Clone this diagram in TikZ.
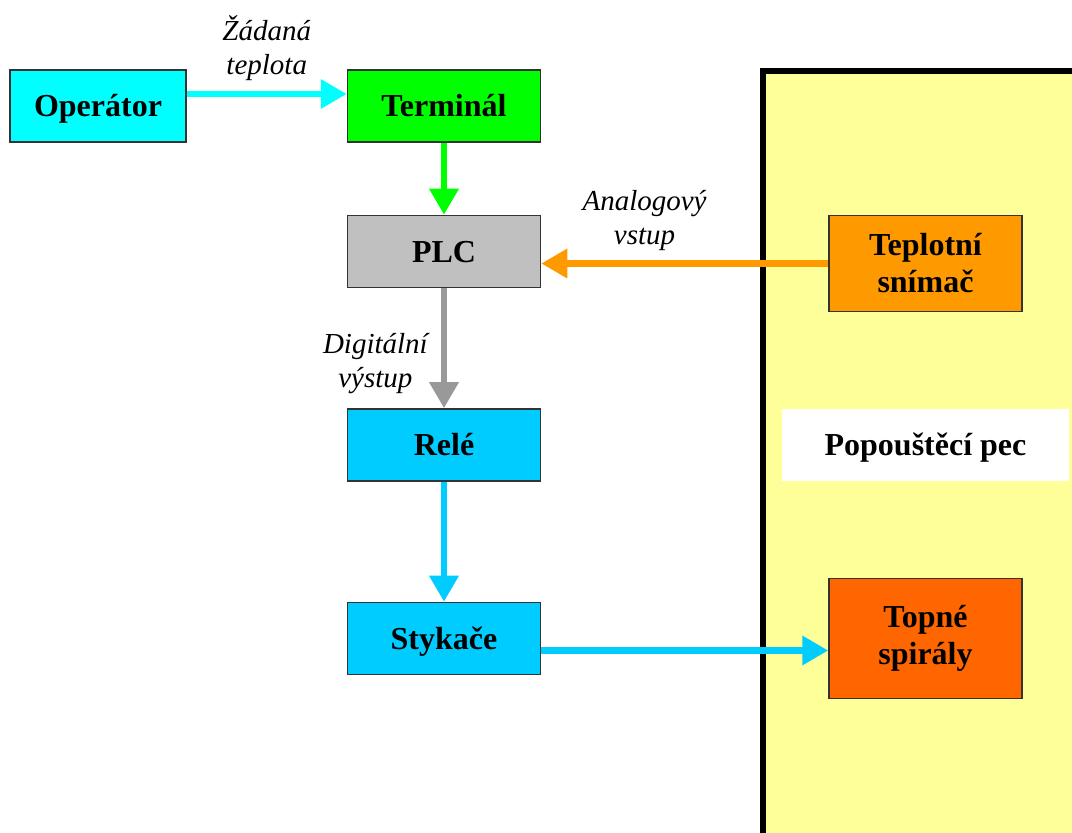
\documentclass[tikz,border=0pt]{standalone}
\usepackage{fontspec}
\setmainfont{Liberation Serif}
\usetikzlibrary{arrows.meta,positioning}

\definecolor{opcyan}{HTML}{00FFFF}
\definecolor{termgreen}{HTML}{00FF00}
\definecolor{plcgray}{HTML}{C0C0C0}
\definecolor{arrowgray}{HTML}{999999}
\definecolor{relblue}{HTML}{00CCFF}
\definecolor{sensorange}{HTML}{FF9900}
\definecolor{heatorange}{HTML}{FF6600}
\definecolor{pecyellow}{HTML}{FFFF99}

\begin{document}
\begin{tikzpicture}[
    box/.style={draw=black!80, line width=0.75pt, fill=#1, inner sep=0pt,
      minimum width=96.5pt, minimum height=36pt, align=center,
      font=\fontsize{16}{18.5}\selectfont\bfseries},
    single/.style={text height=12pt, text depth=1.4pt},
    flow/.style={draw=#1, line width=3.25pt, -{Triangle[length=13pt,width=14pt]}},
    note/.style={inner sep=0pt, align=center,
      font=\fontsize{14.5}{17}\selectfont\itshape}]
    \path[use as bounding box, clip] (0,0) rectangle (536pt,-416.5pt);
    % furnace
    \draw[fill=pecyellow, line width=3pt] (381.5pt,-35.5pt) rectangle (560pt,-440pt);

    \node [box=opcyan, single, minimum width=88pt] (op) at (49pt,-53pt) {Operátor};
    \node [box=termgreen, single, right=80pt of op] (term) {Terminál};
    \node [box=plcgray, single, below=36pt of term] (plc) {PLC};
    \node [box=relblue, single, below=60pt of plc] (rele) {Relé};
    \node [box=relblue, single, below=60pt of rele] (styk) {Stykače};

    \node [box=sensorange, minimum height=48pt,
      below right=0pt and 143.5pt of plc.north east] (tep) {Teplotní\\snímač};
    \node [box=white, single, draw=none, minimum width=143.5pt, below=48pt of tep] (pec) {Popouštěcí pec};
    \node [box=heatorange, minimum height=60pt, below=48pt of pec] (spir) {Topné\\spirály};

    \draw [flow=opcyan] ([yshift=6pt]op.east) -- ([yshift=6pt]term.west)
      node [note, midway, above=5pt] {Žádaná\\teplota};
    \draw [flow=termgreen] (term.south) -- (plc.north);
    \draw [flow=sensorange] (tep.west) -- (tep.west -| plc.east)
      node [note, pos=0.64, above=5pt] {Analogový\\vstup};
    \draw [flow=arrowgray] (plc.south) -- (rele.north)
      node [note, pos=0.625, left=6.5pt] {Digitální\\výstup};
    \draw [flow=relblue] (rele.south) -- (styk.north);
    \draw [flow=relblue] ([yshift=-6pt]styk.east) -- ([yshift=-6pt]spir.west);
\end{tikzpicture}
\end{document}
